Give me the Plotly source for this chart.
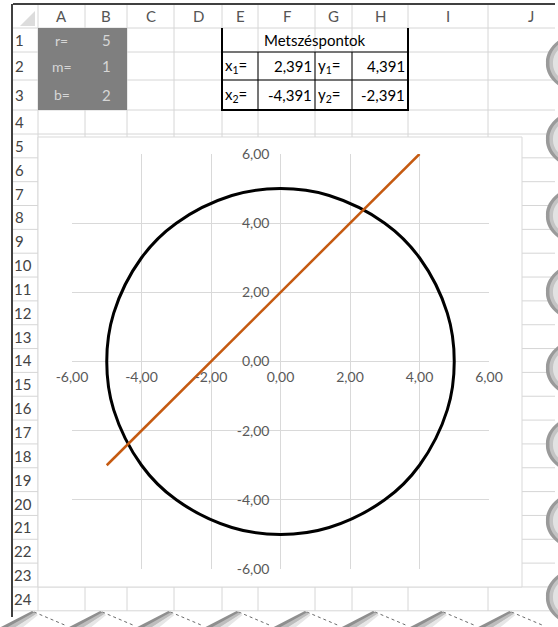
import plotly.graph_objects as go

W, H = 558, 627

# ---- sheet data ----
param_names = ["r=", "m=", "b="]
param_values = ["5", "1", "2"]

table_title = "Metszéspontok"
x_labels = ["x<sub>1</sub>=", "x<sub>2</sub>="]
x_values = ["2,391", "-4,391"]
y_labels = ["y<sub>1</sub>=", "y<sub>2</sub>="]
y_values = ["4,391", "-2,391"]

col_letters = ["A", "B", "C", "D", "E", "F", "G", "H", "I", "J"]
row_numbers = [str(i) for i in range(1, 25)]

# ---- chart data ----
circle_x = [5, 4.8, 4, 3, 1.4, 0, -1.4, -3, -4, -4.8, -5, -4.8, -4, -3, -1.4, 0, 1.4, 3, 4, 4.8, 5]
circle_y = [0, 1.4, 3, 4, 4.8, 5, 4.8, 4, 3, 1.4, 0, -1.4, -3, -4, -4.8, -5, -4.8, -4, -3, -1.4, 0]
line_x = [-5, 4]
line_y = [-3, 6]

tick_vals = [-6, -4, -2, 0, 2, 4, 6]
tick_text = ["-6,00", "-4,00", "-2,00", "0,00", "2,00", "4,00", "6,00"]

# ---- geometry (pixels) ----
col_bounds = [38, 85, 127, 174, 222, 258, 315, 352, 408, 488, 576]
row_bounds = [28, 52, 80, 110, 134] + [134 + 23.84 * k for k in range(1, 21)]
GRID = "#d6d6d6"
FONT = "Lato"


def X(px):
    return px / W


def Y(py):
    return 1 - py / H


shapes = []
annotations = []


def line(x0, y0, x1, y1, color=GRID, width=1, layer="below", dash=None):
    ln = dict(color=color, width=width)
    if dash:
        ln["dash"] = dash
    shapes.append(dict(type="line", xref="paper", yref="paper",
                       x0=X(x0), y0=Y(y0), x1=X(x1), y1=Y(y1),
                       line=ln, layer=layer))


def rect(x0, y0, x1, y1, fill, lcolor=None, lwidth=0, layer="below"):
    shapes.append(dict(type="rect", xref="paper", yref="paper",
                       x0=X(x0), y0=Y(y1), x1=X(x1), y1=Y(y0),
                       fillcolor=fill,
                       line=dict(color=lcolor or fill, width=lwidth),
                       layer=layer))


def pt(p):
    return "%.5f,%.5f" % (X(p[0]), Y(p[1]))


def poly(points, fill, layer="above"):
    s = "M " + pt(points[0]) + " " + " ".join("L " + pt(p) for p in points[1:]) + " Z"
    shapes.append(dict(type="path", xref="paper", yref="paper", path=s,
                       fillcolor=fill, line=dict(color=fill, width=0), layer=layer))


def lens(x_edge, x_tip, yc, h, fill, layer="above"):
    dx = x_edge - x_tip
    s = ("M " + pt((x_edge, yc - h)) +
         " C " + pt((x_edge - 0.75 * dx, yc - h + 0.3 * h)) + " " + pt((x_tip - 0.05 * dx, yc - 0.3 * h)) + " " + pt((x_tip, yc)) +
         " C " + pt((x_tip - 0.05 * dx, yc + 0.3 * h)) + " " + pt((x_edge - 0.75 * dx, yc + h - 0.3 * h)) + " " + pt((x_edge, yc + h)) +
         " Z")
    shapes.append(dict(type="path", xref="paper", yref="paper", path=s,
                       fillcolor=fill, line=dict(color=fill, width=0), layer=layer))


def text(px, py, s, size=15, color="#000000", anchor="center"):
    annotations.append(dict(xref="paper", yref="paper", x=X(px), y=Y(py),
                            text=s, showarrow=False, xanchor=anchor,
                            yanchor="middle",
                            font=dict(family=FONT, size=size, color=color)))


# ---- spreadsheet grid ----
for cx in col_bounds[:-1]:
    line(cx, 5, cx, 611)
for ry in row_bounds:
    line(13, ry, 555, ry)

# corner triangle
poly([(35, 11), (35, 26), (20, 26)], "#dcdcdc", layer="below")

# gray parameter cells A1:B3
rect(38, 28, 127, 110, "#7f7f7f", layer="below")

# table borders E1:H3
line(222, 52, 408, 52, "#000000", 1)
line(222, 80, 408, 80, "#000000", 1)
for vx in [258, 315, 352]:
    line(vx, 52, vx, 110, "#000000", 1)
line(222, 28, 222, 111, "#000000", 2)
line(408, 28, 408, 111, "#000000", 2)
line(221, 110, 409, 110, "#000000", 2)

# chart area
rect(38, 137, 522, 587, "#ffffff", "#d9d9d9", 1, layer="below")

# ---- headers text ----
col_centers = [(col_bounds[i] + col_bounds[i + 1]) / 2 for i in range(len(col_bounds) - 1)]
col_centers[-1] = 531
for letter, cx in zip(col_letters, col_centers):
    text(cx, 16, letter, 15, "#555555")

row_mid = []
prev = 28
for rb in row_bounds[1:]:
    row_mid.append((prev + rb) / 2)
    prev = rb
for num, cy in zip(row_numbers, row_mid):
    text(12 if len(num) > 1 else 13, cy, num, 15, "#444444", anchor="left")

# parameter cells
for i in range(3):
    cy = (row_bounds[i] + row_bounds[i + 1]) / 2
    text(61.5, cy, param_names[i], 14, "#d6d6d6")
    text(106, cy, param_values[i], 15, "#d6d6d6")

# table text
text(315, 40, table_title, 15, "#000000")
for i in range(2):
    cy = (row_bounds[i + 1] + row_bounds[i + 2]) / 2
    text(223, cy, x_labels[i], 15, "#000000", anchor="left")
    text(314, cy, x_values[i], 15, "#000000", anchor="right")
    text(316, cy, y_labels[i], 15, "#000000", anchor="left")
    text(407, cy, y_values[i], 15, "#000000", anchor="right")

# ---- torn edges ----
# bottom zigzag
peaks = [33 + 68.2 * k for k in range(8)]
zz = [(0, 627), (0, 618), (20, 613)]
for p in peaks:
    zz.append((p, 611))
    zz.append((p + 34, 627))
zz.append((558, 612))
zz.append((558, 627))
poly(zz, "#ffffff")
for p in peaks:
    line(p + 1, 612, p + 34, 626, "#6b6b6b", 1, layer="above", dash="dot")
    poly([(p - 34, 628), (p - 1, 611), (p + 3, 613), (p - 25, 628)], "#8f8f8f")
    poly([(p - 27, 628), (p + 1, 612.5), (p + 4, 614), (p - 18, 628)], "#bdbdbd")
    poly([(p - 19, 628), (p + 3, 614), (p + 5, 615), (p - 11, 628)], "#e6e6e6")

# outer black frame lines
line(13, 4, 555, 4, "#000000", 1.5, layer="above")
line(12, 4, 12, 617, "#000000", 1.5, layer="above")

# right wavy edge
rect(555, 0, 558, 627, "#ffffff", layer="above")
for k in range(8):
    yc = 63 + 76.3 * k
    lens(559, 546, yc, 23, "#9a9a9a")
    lens(559, 549.5, yc, 19, "#c4c4c4")
    lens(559, 553, yc, 14, "#e2e2e2")

# ---- chart ----
fig = go.Figure()
fig.add_trace(go.Scatter(x=circle_x, y=circle_y, mode="lines",
                         line=dict(color="#000000", width=3, shape="spline", smoothing=1.0),
                         hoverinfo="skip", showlegend=False))
fig.add_trace(go.Scatter(x=line_x, y=line_y, mode="lines",
                         line=dict(color="#C55A11", width=2.5),
                         hoverinfo="skip", showlegend=False))

axis_font = dict(family=FONT, size=14, color="#595959")
fig.update_layout(
    template="none",
    width=W, height=H, autosize=False,
    margin=dict(l=0, r=0, t=0, b=0, pad=0),
    paper_bgcolor="#ffffff",
    plot_bgcolor="rgba(0,0,0,0)",
    showlegend=False,
    shapes=shapes,
    annotations=annotations,
    xaxis=dict(domain=[X(72), X(489)], range=[-6, 6], tickvals=tick_vals, ticktext=tick_text,
               showgrid=True, gridcolor="#d9d9d9", gridwidth=1, zeroline=True,
               zerolinecolor="#d9d9d9", zerolinewidth=1, showline=False, ticks="",
               anchor="free", position=Y(362), tickfont=axis_font, fixedrange=True,
               automargin=False, ticklabelstandoff=5),
    yaxis=dict(domain=[Y(569), Y(154)], range=[-6, 6], tickvals=tick_vals, ticktext=tick_text,
               showgrid=True, gridcolor="#d9d9d9", gridwidth=1, zeroline=True,
               zerolinecolor="#d9d9d9", zerolinewidth=1, showline=False, ticks="",
               anchor="free", position=X(280.5), tickfont=axis_font, fixedrange=True,
               automargin=False, ticklabelstandoff=11),
)

fig.write_html(
    "out.html",
    config={"displayModeBar": False},
    post_script="document.body.style.margin='0';document.body.style.padding='0';"
                "document.body.style.overflow='hidden';",
)
